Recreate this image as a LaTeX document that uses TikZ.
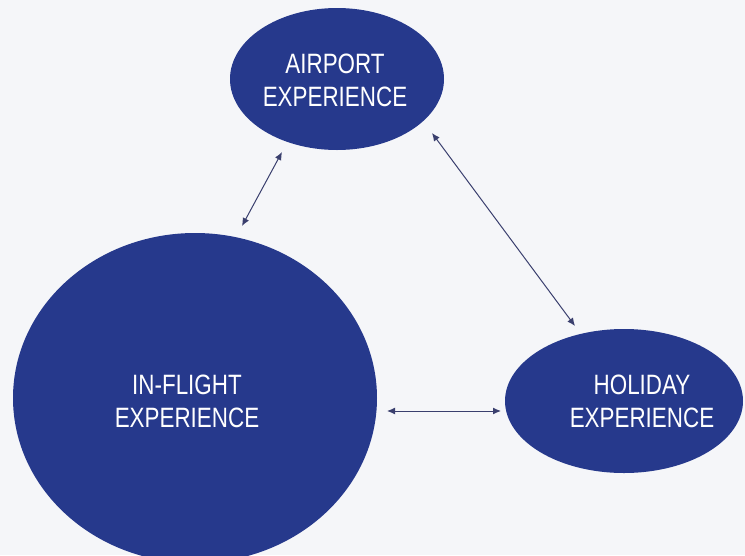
\documentclass[tikz,border=0pt]{standalone}
\usepackage{fontspec}
\usetikzlibrary{arrows.meta,shapes.geometric}
\newfontfamily\handfont[FakeStretch=0.8]{Liberation Sans}
\definecolor{bubble}{HTML}{26398C}
\definecolor{paper}{HTML}{F5F6F9}
\definecolor{link}{HTML}{3A3F6E}
\tikzset{
  bubble/.style={ellipse, fill=bubble, draw=none, inner sep=0pt},
  caption/.style={text=white, align=center, font=\handfont\fontsize{28}{33}\selectfont},
  link/.style={draw=link, line width=1pt, {Latex[length=8pt,width=7pt]}-{Latex[length=8pt,width=7pt]}}
}
\begin{document}
\begin{tikzpicture}[x=1pt,y=-1pt]
  % page
  \fill[paper] (0,0) rectangle (745,555);
  \useasboundingbox (0,0) rectangle (745,555);

  % experience bubbles
  \node[bubble, minimum width=214pt, minimum height=142pt] (airport) at (337,79) {};
  \node[bubble, minimum width=364pt, minimum height=330pt] (inflight) at (195,398) {};
  \node[bubble, minimum width=238pt, minimum height=144pt] (holiday) at (624,401) {};

  % captions
  \node[caption] (airportText) at (335,80) {AIRPORT\\EXPERIENCE};
  \node[caption] (inflightText) at (187,401) {IN-FLIGHT\\EXPERIENCE};
  \node[caption] (holidayText) at (642,401) {HOLIDAY\\EXPERIENCE};

  % arrow end points just off the bubbles
  \coordinate (a1) at (282,152);
  \coordinate (a2) at (242,226);
  \coordinate (b1) at (432,133);
  \coordinate (b2) at (575,326);
  \coordinate (c1) at (387,411);
  \coordinate (c2) at (501,411);

  % two-way links
  \draw[link] (a1) -- (a2);
  \draw[link] (b1) -- (b2);
  \draw[link] (c1) -- (c2);
\end{tikzpicture}
\end{document}
